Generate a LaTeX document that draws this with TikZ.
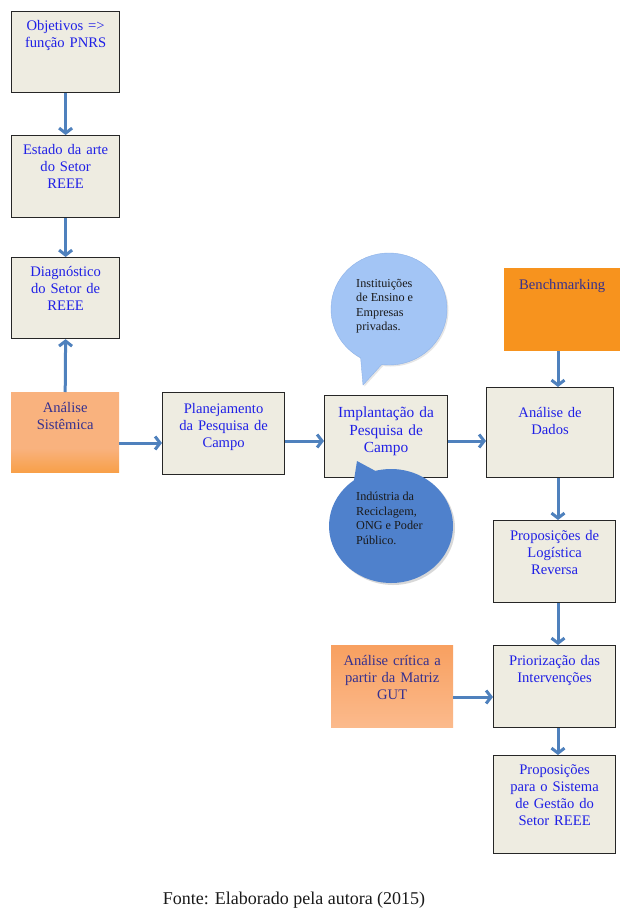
\documentclass[tikz,border=0pt]{standalone}
\usepackage{fontspec}
\setmainfont{Liberation Serif}
\usetikzlibrary{arrows.meta,shapes.callouts,shadows,calc}
\definecolor{boxfill}{HTML}{EEECE1}
\definecolor{boxdraw}{HTML}{262626}
\definecolor{tblue}{HTML}{2020E6}
\definecolor{tdark}{HTML}{35308F}
\definecolor{arrc}{HTML}{4F81BD}
\definecolor{benchc}{HTML}{F7931E}
\definecolor{olight}{HTML}{F9B27E}
\definecolor{odark}{HTML}{F7901A}
\definecolor{obot}{HTML}{F9A862}
\definecolor{ctop}{HTML}{F8A060}
\definecolor{cbot}{HTML}{FBBA8C}
\definecolor{bubA}{HTML}{A3C5F5}
\definecolor{bubAd}{HTML}{8DB2E8}
\definecolor{bubB}{HTML}{4F81CC}
\definecolor{capc}{HTML}{1A1A1A}
\pgfdeclareverticalshading{asisshade}{100bp}{color(0bp)=(obot); color(12bp)=(odark); color(40bp)=(olight); color(100bp)=(olight)}
\newcommand\fsz[2]{\fontsize{#1}{#2}\selectfont}
\tikzset{
  base/.style={rectangle, inner xsep=4pt, inner ysep=0pt, anchor=north west, align=center, font=\fsz{14.6}{17}, text=tblue},
  gbox/.style={base, fill=boxfill, draw=boxdraw, line width=1.2pt},
  arr/.style={draw=arrc, line width=3pt, -{Straight Barb[length=5pt,width=13pt]}},
  bubtext/.style={anchor=north west, inner sep=0pt, align=left, font=\fsz{12.2}{14.5}, text=capc},
}
\begin{document}
\begin{tikzpicture}[x=1pt,y=-1pt]
\useasboundingbox[fill=white] (0,0) rectangle (624,918);
% left column
\node[gbox, text width=100pt, text height=19pt, text depth=62pt] (obj) at (11,11) {Objetivos =>\\função PNRS};
\node[gbox, text width=100pt, text height=19pt, text depth=63pt] (est) at (11,135) {Estado da arte\\do Setor\\REEE};
\node[gbox, text width=100pt, text height=19pt, text depth=62pt] (diag) at (11,257) {Diagnóstico\\do Setor de\\REEE};
\node[base, shading=asisshade, text=tdark, text width=100pt, text height=20pt, text depth=60pt] (asis) at (11,392) {Análise\\Sistêmica};
% middle row
\node[gbox, text width=114pt, text height=21pt, text depth=61pt] (plan) at (162,392) {Planejamento\\da Pesquisa de\\Campo};
\node[gbox, font=\fsz{15.4}{17.5}, text width=115pt, text height=22pt, text depth=60pt] (impl) at (324,395) {Implantação da\\Pesquisa de\\Campo};
\node[gbox, text width=119pt, text height=30pt, text depth=60pt] (dados) at (486,387) {Análise de\\Dados};
\node[base, fill=benchc, text=tdark, text width=108pt, text height=21pt, text depth=62pt] (bench) at (504,268) {Benchmarking};
% right column
\node[gbox, text width=114pt, text height=20pt, text depth=62pt] (prop1) at (493,520) {Proposições de\\Logística\\Reversa};
\node[base, top color=ctop, bottom color=cbot, text=tdark, text width=114pt, text height=20pt, text depth=62pt] (crit) at (331,645) {Análise crítica a\\partir da Matriz\\GUT};
\node[gbox, text width=114pt, text height=20pt, text depth=62pt] (prio) at (493,645) {Priorização das\\Intervenções};
\node[gbox, text width=114pt, text height=19pt, text depth=79pt] (prop2) at (493,755) {Proposições\\para o Sistema\\de Gestão do\\Setor REEE};
% helper coordinates
\coordinate (cx) at (558,0);
\coordinate (ra) at (0,443);
\coordinate (rb) at (0,441);
\coordinate (rc) at (0,697);
% connectors
\draw[arr] (obj.south) -- (est.north);
\draw[arr] (est.south) -- (diag.north);
\draw[arr] (asis.north) -- (diag.south);
\draw[arr] (asis.east |- ra) -- (plan.west |- ra);
\draw[arr] (plan.east |- rb) -- (impl.west |- rb);
\draw[arr] (impl.east |- rb) -- (dados.west |- rb);
\draw[arr] (bench.south -| cx) -- (dados.north -| cx);
\draw[arr] (dados.south -| cx) -- (prop1.north -| cx);
\draw[arr] (prop1.south -| cx) -- (prio.north -| cx);
\draw[arr] (prio.south -| cx) -- (prop2.north -| cx);
\draw[arr] (crit.east |- rc) -- (prio.west |- rc);
% speech bubbles
\node[ellipse callout, fill=bubA, draw=bubAd, line width=0.4pt, minimum width=116pt, minimum height=112pt, callout pointer arc=22, callout absolute pointer={(363,385)}, drop shadow={shadow xshift=1.5pt, shadow yshift=-1.5pt, opacity=0.2}] (b1) at (389,309) {};
\node[bubtext] (t1) at (356,279) {Instituições\\de Ensino e\\Empresas\\privadas.};
\node[ellipse callout, fill=bubB, minimum width=124pt, minimum height=114pt, callout pointer arc=22, callout absolute pointer={(357,461)}, drop shadow={shadow xshift=2pt, shadow yshift=-2pt, opacity=0.3}] (b2) at (391,526) {};
\node[bubtext] (t2) at (356,492) {Indústria da\\Reciclagem,\\ONG e Poder\\Público.};
% caption
\node[font=\fsz{18}{21}, text=capc] (cap) at (294,900) {Fonte: Elaborado pela autora (2015)};
\end{tikzpicture}
\end{document}
